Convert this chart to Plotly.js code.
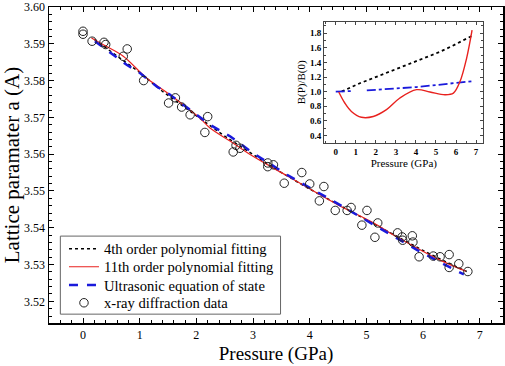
<!DOCTYPE html>
<html>
<head>
<meta charset="utf-8">
<script src="https://cdn.plot.ly/plotly-3.0.1.min.js"></script>
<style>html,body{margin:0;padding:0;background:#fff;}#chart{width:505px;height:366px;}</style>
</head>
<body>
<div id="chart"></div>
<script>
// x-ray diffraction data
const xrayP = [0.00,0.00,0.16,0.37,0.40,0.71,0.78,1.07,1.51,1.63,1.74,1.89,2.15,2.20,2.65,2.70,2.77,3.26,3.26,3.36,3.55,3.86,4.00,4.17,4.25,4.45,4.66,4.73,4.92,5.01,5.15,5.20,5.55,5.63,5.64,5.81,5.82,5.93,6.18,6.30,6.46,6.46,6.63,6.79];
const xrayA = [3.5934,3.5926,3.5907,3.5904,3.5898,3.5866,3.5886,3.5800,3.5739,3.5753,3.5728,3.5707,3.5659,3.5702,3.5606,3.5624,3.5616,3.5576,3.5566,3.5571,3.5521,3.5550,3.5519,3.5473,3.5512,3.5447,3.5447,3.5455,3.5407,3.5447,3.5374,3.5413,3.5386,3.5375,3.5366,3.5378,3.5361,3.5321,3.5323,3.5321,3.5327,3.5292,3.5302,3.5281];

// 4th order polynomial fitting
const poly4P = [0.20,0.60,1.00,1.40,2.00,2.47,2.95,3.50,4.00,4.50,5.00,5.50,6.00,6.50,6.77];
const poly4A = [3.5912,3.5868,3.5822,3.5771,3.5703,3.5652,3.5604,3.5550,3.5505,3.5463,3.5422,3.5380,3.5338,3.5300,3.5281];

// 11th order polynomial fitting
const poly11P = [0.15,0.35,0.71,1.12,1.53,2.06,2.24,2.60,3.00,3.60,4.12,4.50,5.13,5.50,5.89,6.30,6.75];
const poly11A = [3.5916,3.5898,3.5866,3.5807,3.5762,3.5698,3.5671,3.5635,3.5594,3.5541,3.5495,3.5462,3.5413,3.5378,3.5345,3.5312,3.5282];

// Ultrasonic equation of state
const ultraP = [0.21,0.50,0.77,1.00,1.30,1.53,2.00,2.24,2.60,3.00,3.60,4.12,4.60,5.13,5.50,5.89,6.30,6.72];
const ultraA = [3.5907,3.5875,3.5843,3.5821,3.5784,3.5762,3.5709,3.5680,3.5648,3.5603,3.5544,3.5499,3.5456,3.5408,3.5374,3.5340,3.5306,3.5273];

// Inset: B(P)/B(0)
const inPoly4P = [0.30,0.92,1.23,1.53,1.87,2.50,3.47,4.15,5.17,5.83,6.78];
const inPoly4B = [1.003,1.085,1.118,1.149,1.186,1.254,1.354,1.426,1.541,1.627,1.760];
const inPoly11P = [0.15,0.45,0.78,1.28,1.87,2.53,3.20,4.03,4.70,5.45,5.87,6.20,6.53,6.80];
const inPoly11B = [0.995,0.845,0.730,0.650,0.660,0.754,0.913,1.027,0.995,0.958,0.980,1.140,1.459,1.840];
const inUltraP = [0.00,0.78,null,1.55,3.00,4.03,5.00,6.00,6.87];
const inUltraB = [1.000,1.009,null,1.017,1.040,1.063,1.090,1.118,1.145];

const serif = "Liberation Serif, Times New Roman, serif";

const traces = [
  {x: poly4P, y: poly4A, mode: 'lines', name: '4th order polynomial fitting', legend: 'legend',
   line: {color: '#000', dash: 'dot', width: 1.5}, xaxis: 'x', yaxis: 'y'},
  {x: poly11P, y: poly11A, mode: 'lines', name: '11th order polynomial fitting', legend: 'legend2',
   line: {color: '#e8211e', width: 1.2, shape: 'spline'}, xaxis: 'x', yaxis: 'y'},
  {x: ultraP, y: ultraA, mode: 'lines', name: 'Ultrasonic equation of state', legend: 'legend3',
   line: {color: '#1a1adb', dash: 'dash', width: 2.5}, xaxis: 'x', yaxis: 'y'},
  {x: xrayP, y: xrayA, mode: 'markers', name: 'x-ray diffraction data', legend: 'legend4',
   marker: {symbol: 'circle-open', size: 8.5, color: '#222', line: {width: 1, color: '#222'}}, xaxis: 'x', yaxis: 'y'},
  {x: inPoly4P, y: inPoly4B, mode: 'lines', showlegend: false,
   line: {color: '#000', dash: 'dot', width: 1.8}, xaxis: 'x2', yaxis: 'y2'},
  {x: inUltraP, y: inUltraB, mode: 'lines', showlegend: false, connectgaps: false,
   line: {color: '#1a1adb', dash: 'dashdot', width: 1.8}, xaxis: 'x2', yaxis: 'y2'},
  {x: inPoly11P, y: inPoly11B, mode: 'lines', showlegend: false,
   line: {color: '#e8211e', width: 1.4, shape: 'spline'}, xaxis: 'x2', yaxis: 'y2'}
];

function leg(yc) {
  return {x: 0.033, y: yc, xanchor: 'left', yanchor: 'middle',
    bgcolor: 'rgba(0,0,0,0)', borderwidth: 0,
    font: {family: serif, size: 14.6, color: '#000'}};
}

const layout = {
  width: 505, height: 366,
  margin: {l: 49, r: 2, t: 7, b: 43},
  paper_bgcolor: '#fff', plot_bgcolor: 'rgba(0,0,0,0)',
  font: {family: serif, color: '#000'},
  showlegend: true,
  legend: leg(0.235),
  legend2: leg(0.178),
  legend3: leg(0.120),
  legend4: leg(0.064),
  shapes: [{type: 'rect', xref: 'paper', yref: 'paper', x0: 0.025, x1: 0.510, y0: 0.028, y1: 0.275,
    line: {color: '#666', width: 1}, fillcolor: '#fff', layer: 'below'}],
  xaxis: {domain: [0, 1], range: [-0.6, 7.41], tick0: 0, dtick: 1,
    ticks: 'inside', ticklen: 5, tickwidth: 1, tickcolor: '#000',
    showline: true, linecolor: '#000', linewidth: 1.5, mirror: 'ticks',
    showgrid: false, zeroline: false,
    minor: {dtick: 0.2, ticks: 'inside', ticklen: 3, tickwidth: 1, tickcolor: '#000', showgrid: false},
    tickfont: {family: serif, size: 12},
    title: {text: 'Pressure (GPa)', font: {family: serif, size: 19}, standoff: 6}},
  yaxis: {domain: [0, 1], range: [3.5141, 3.60], tick0: 3.52, dtick: 0.01, tickformat: '.2f',
    ticks: 'inside', ticklen: 5, tickwidth: 1, tickcolor: '#000',
    showline: true, linecolor: '#000', linewidth: 1.5, mirror: 'ticks',
    showgrid: false, zeroline: false,
    minor: {dtick: 0.002, ticks: 'inside', ticklen: 3, tickwidth: 1, tickcolor: '#000', showgrid: false},
    tickfont: {family: serif, size: 12},
    title: {text: 'Lattice paramater a (A)', font: {family: serif, size: 21}, standoff: 4}},
  xaxis2: {domain: [0.606, 0.957], anchor: 'y2', range: [-0.58, 7.37], tick0: 0, dtick: 1,
    ticks: 'inside', ticklen: 3, tickwidth: 1, tickcolor: '#444',
    showline: true, linecolor: '#444', linewidth: 1, mirror: 'ticks',
    showgrid: false, zeroline: false,
    minor: {dtick: 0.5, ticks: 'inside', ticklen: 2, tickwidth: 1, tickcolor: '#444'},
    tickfont: {family: serif, size: 9, weight: 'bold'},
    title: {text: 'Pressure (GPa)', font: {family: serif, size: 11}, standoff: 2}},
  yaxis2: {domain: [0.570, 0.953], anchor: 'x2', range: [0.30, 1.954], tick0: 0.4, dtick: 0.2, tickformat: '.1f',
    ticks: 'inside', ticklen: 3, tickwidth: 1, tickcolor: '#444',
    showline: true, linecolor: '#444', linewidth: 1, mirror: 'ticks',
    showgrid: false, zeroline: false,
    minor: {dtick: 0.1, ticks: 'inside', ticklen: 2, tickwidth: 1, tickcolor: '#444'},
    tickfont: {family: serif, size: 9, weight: 'bold'},
    title: {text: 'B(P)/B(0)', font: {family: serif, size: 11}, standoff: 2}}
};

Plotly.newPlot('chart', traces, layout, {displayModeBar: false, staticPlot: true});
</script>
</body>
</html>
